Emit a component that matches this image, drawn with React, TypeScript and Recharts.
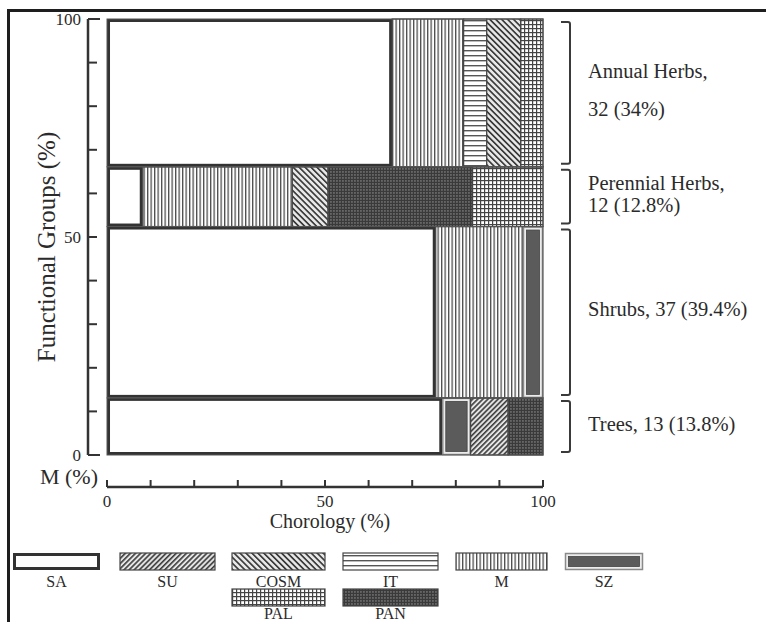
import React from 'react';
import { ComposedChart, XAxis, YAxis, ReferenceArea, ReferenceLine, Scatter, Label } from 'recharts';

// functional groups, bottom to top
const GROUPS = ['Trees', 'Shrubs', 'Perennial Herbs', 'Annual Herbs'];
const GROUP_COUNTS = [13, 37, 12, 32];
const GROUP_PCT = ['13.8%', '39.4%', '12.8%', '34%'];
const GROUP_HEIGHTS = [13.1, 39.3, 13.7, 33.9]; // share of the y axis as drawn

// chorology inside each group (% of the row width)
const TREES_TYPES = ['SA', 'SZ', 'SU', 'PAN'];
const TREES_SHARES = [76.9, 6.5, 8.6, 8.0];
const SHRUBS_TYPES = ['SA', 'M', 'SZ'];
const SHRUBS_SHARES = [75.4, 20.0, 4.6];
const PERENNIAL_TYPES = ['SA', 'M', 'COSM', 'PAN', 'PAL'];
const PERENNIAL_SHARES = [8.2, 34.3, 8.2, 33.1, 16.2];
const ANNUAL_TYPES = ['SA', 'M', 'IT', 'COSM', 'PAL'];
const ANNUAL_SHARES = [65.4, 16.4, 5.3, 7.8, 5.1];

const LEGEND_ROW1 = ['SA', 'SU', 'COSM', 'IT', 'M', 'SZ'];
const LEGEND_ROW2 = ['PAL', 'PAN'];

const TICKS = [0, 10, 20, 30, 40, 50, 60, 70, 80, 90, 100];
const LABELED = [0, 50, 100];

const X_MIN = -4.36;
const Y_MIN = -7.34;
const FONT = '"Liberation Serif", "Times New Roman", serif';
const INK = '#2b2b2b';

const ROW_TYPES = [TREES_TYPES, SHRUBS_TYPES, PERENNIAL_TYPES, ANNUAL_TYPES];
const ROW_SHARES = [TREES_SHARES, SHRUBS_SHARES, PERENNIAL_SHARES, ANNUAL_SHARES];
const TWO_LINE = [false, false, true, true];
const LINE_GAP = [0, 0, 22, 38];

const clamp = (v: number) => Math.min(100, Math.round(v * 1000) / 1000);

let acc = 0;
const rows = GROUPS.map((g, i) => {
  const y0 = clamp(acc);
  acc += GROUP_HEIGHTS[i];
  return { name: g, y0, y1: clamp(acc), idx: i };
});

const cells: { kind: string; x0: number; x1: number; y0: number; y1: number; cx: number; cy: number }[] = [];
rows.forEach((r) => {
  let x = 0;
  ROW_TYPES[r.idx].forEach((kind, j) => {
    const w = ROW_SHARES[r.idx][j];
    const x0 = clamp(x);
    const x1 = clamp(x + w);
    cells.push({ kind, x0, x1, y0: r.y0, y1: r.y1, cx: (x0 + x1) / 2, cy: (r.y0 + r.y1) / 2 });
    x += w;
  });
});

function PatternDefs() {
  return (
    <svg width={0} height={0} style={{ position: 'absolute' }}>
      <defs>
        <pattern id="pat-SU" width={3.6} height={6} patternUnits="userSpaceOnUse" patternTransform="rotate(45)">
          <rect width={3.6} height={6} fill="#e4e4e4" />
          <rect width={1.6} height={6} fill="#3c3c3c" />
        </pattern>
        <pattern id="pat-COSM" width={4.2} height={6} patternUnits="userSpaceOnUse" patternTransform="rotate(-45)">
          <rect width={4.2} height={6} fill="#e8e8e8" />
          <rect width={1.7} height={6} fill="#3c3c3c" />
        </pattern>
        <pattern id="pat-IT" width={6} height={5} patternUnits="userSpaceOnUse">
          <rect width={6} height={5} fill="#fff" />
          <rect width={6} height={1.4} fill="#555" />
        </pattern>
        <pattern id="pat-M" width={3.5} height={6} patternUnits="userSpaceOnUse">
          <rect width={3.5} height={6} fill="#fff" />
          <rect width={1.3} height={6} fill="#4a4a4a" />
        </pattern>
        <pattern id="pat-PAL" width={4} height={4} patternUnits="userSpaceOnUse">
          <rect width={4} height={4} fill="#fff" />
          <rect width={1.2} height={4} fill="#444" />
          <rect width={4} height={1.2} fill="#444" />
        </pattern>
        <pattern id="pat-PAN" width={3} height={3} patternUnits="userSpaceOnUse">
          <rect width={3} height={3} fill="#3a3a3a" />
          <rect x={0.4} y={0.4} width={1.1} height={1.1} fill="#b5b5b5" />
        </pattern>
      </defs>
    </svg>
  );
}

function CellShape(props: any) {
  const { x, y, width, height, kind } = props;
  if (kind === 'SA') {
    return <rect x={x + 1.5} y={y + 1.5} width={width - 3} height={height - 3} fill="#fff" stroke="#333" strokeWidth={3} />;
  }
  if (kind === 'SZ') {
    return (
      <g>
        <rect x={x + 0.5} y={y + 0.5} width={width - 1} height={height - 1} fill="#ececec" stroke="#8a8a8a" strokeWidth={1.5} />
        <rect x={x + 3.5} y={y + 3.5} width={width - 7} height={height - 7} fill="#5b5b5b" stroke="#444" strokeWidth={0.8} />
      </g>
    );
  }
  return <rect x={x} y={y} width={width} height={height} fill={`url(#pat-${kind})`} stroke="#444" strokeWidth={1.2} />;
}

function GroupShape(props: any) {
  const { x, y, width, height, idx } = props;
  const right = x + width;
  const top = y + 3;
  const bottom = y + height - 3;
  const mid = y + height / 2 - 3;
  const name = GROUPS[idx];
  const lines = TWO_LINE[idx]
    ? [`${name},`, `${GROUP_COUNTS[idx]} (${GROUP_PCT[idx]})`]
    : [`${name}, ${GROUP_COUNTS[idx]} (${GROUP_PCT[idx]})`];
  const gap = LINE_GAP[idx];
  return (
    <g>
      <rect x={x} y={y} width={width} height={height} fill="none" stroke="#555" strokeWidth={1} />
      <path
        d={`M${right + 18},${top} L${right + 25},${top} Q${right + 27},${top} ${right + 27},${top + 2} L${right + 27},${bottom - 2} Q${right + 27},${bottom} ${right + 25},${bottom} L${right + 18},${bottom}`}
        fill="none"
        stroke="#3a3a3a"
        strokeWidth={2}
      />
      {lines.map((t, k) => (
        <text
          key={k}
          x={right + 45}
          y={mid + (k - (lines.length - 1) / 2) * gap}
          dy="0.35em"
          fontSize={20.5}
          fontFamily={FONT}
          fill={INK}
        >
          {t}
        </text>
      ))}
    </g>
  );
}

const YTick = (props: any) => {
  const { x, y, payload } = props;
  const v = payload.value;
  const long = v === 0 || v === 100;
  return (
    <g>
      <line x1={x} y1={y} x2={x + (long ? 12 : 9)} y2={y} stroke="#333" strokeWidth={2} />
      {LABELED.includes(v) && (
        <text x={x - 7} y={y} dy="0.35em" textAnchor="end" fontSize={17} fontFamily={FONT} fill={INK}>
          {v}
        </text>
      )}
    </g>
  );
};

const XTick = (props: any) => {
  const { x, y, payload } = props;
  const v = payload.value;
  return (
    <g>
      <line x1={x} y1={y} x2={x} y2={y - 7} stroke="#333" strokeWidth={2} />
      {LABELED.includes(v) && (
        <text x={x} y={y + 20} textAnchor="middle" fontSize={17} fontFamily={FONT} fill={INK}>
          {v}
        </text>
      )}
    </g>
  );
};

const LEGEND_X1 = [13, 120, 232, 343, 456, 565];
const LEGEND_W1 = [87, 95, 93, 95, 91, 78];
const LEGEND_X2 = [232, 343];
const LEGEND_W2 = [93, 95];

function LegendBox({ kind, x, w, y, dy }: { kind: string; x: number; w: number; y: number; dy: number }) {
  return (
    <g>
      <CellShape kind={kind} x={x} y={y} width={w} height={17} />
      <text x={x + w / 2} y={y + dy} textAnchor="middle" fontSize={16} fontFamily={FONT} fill={INK}>
        {kind}
      </text>
    </g>
  );
}

export default function App() {
  return (
    <div style={{ position: 'absolute', left: 0, top: 0, width: 766, height: 622, background: '#fff', overflow: 'hidden' }}>
      <PatternDefs />
      <div
        style={{
          position: 'absolute',
          left: 7,
          top: 9,
          width: 766,
          height: 622,
          borderTop: '3px solid #1e1e1e',
          borderLeft: '3px solid #1e1e1e',
        }}
      />
      <div style={{ position: 'absolute', left: 0, top: 0 }}>
        <ComposedChart width={766} height={540} margin={{ top: 19, right: 223, bottom: 12, left: 8 }}>
          <XAxis
            type="number"
            dataKey="cx"
            domain={[X_MIN, 100]}
            ticks={TICKS}
            axisLine={false}
            tickLine={false}
            tickSize={0}
            tickMargin={0}
            height={41}
            tick={(p: any) => <XTick {...p} />}
          >
            <Label
              content={(p: any) => {
                const vb = p.viewBox;
                const cx = vb.x + (vb.width * (50 - X_MIN)) / (100 - X_MIN);
                return (
                  <g fontFamily={FONT} fill={INK}>
                    <text x={vb.x + 10} y={vb.y - 3.5} textAnchor="end" fontSize={22}>
                      M (%)
                    </text>
                    <text x={cx + 5} y={vb.y + 41} textAnchor="middle" fontSize={20}>
                      Chorology (%)
                    </text>
                  </g>
                );
              }}
            />
          </XAxis>
          <YAxis
            type="number"
            dataKey="cy"
            domain={[Y_MIN, 100]}
            ticks={TICKS}
            axisLine={false}
            tickLine={false}
            tickSize={0}
            tickMargin={0}
            width={80}
            tick={(p: any) => <YTick {...p} />}
          >
            <Label
              content={(p: any) => {
                const vb = p.viewBox;
                const tx = vb.x + 47;
                const ty = vb.y + vb.height / 2 - 6;
                return (
                  <text
                    x={tx}
                    y={ty}
                    transform={`rotate(-90 ${tx} ${ty})`}
                    textAnchor="middle"
                    fontSize={25}
                    fontFamily={FONT}
                    fill={INK}
                  >
                    Functional Groups (%)
                  </text>
                );
              }}
            />
          </YAxis>
          {cells.map((c, i) => (
            <ReferenceArea
              key={`cell-${i}`}
              x1={c.x0}
              x2={c.x1}
              y1={c.y0}
              y2={c.y1}
              ifOverflow="visible"
              shape={(p: any) => <CellShape {...p} kind={c.kind} />}
            />
          ))}
          {rows.map((r) => (
            <ReferenceArea
              key={`row-${r.idx}`}
              x1={0}
              x2={100}
              y1={r.y0}
              y2={r.y1}
              ifOverflow="visible"
              shape={(p: any) => <GroupShape {...p} idx={r.idx} />}
            />
          ))}
          <ReferenceLine
            segment={[{ x: X_MIN, y: 0 }, { x: X_MIN, y: 100 }]}
            stroke="#333"
            strokeWidth={2.5}
          />
          <ReferenceLine
            segment={[{ x: 0, y: Y_MIN }, { x: 100, y: Y_MIN }]}
            stroke="#333"
            strokeWidth={2.5}
          />
          <Scatter data={cells} dataKey="cy" shape={() => <g />} isAnimationActive={false} />
        </ComposedChart>
      </div>
      <svg width={766} height={82} style={{ position: 'absolute', left: 0, top: 540 }}>
        {LEGEND_ROW1.map((k, i) => (
          <LegendBox key={k} kind={k} x={LEGEND_X1[i]} w={LEGEND_W1[i]} y={13} dy={34} />
        ))}
        {LEGEND_ROW2.map((k, i) => (
          <LegendBox key={k} kind={k} x={LEGEND_X2[i]} w={LEGEND_W2[i]} y={49} dy={30} />
        ))}
      </svg>
    </div>
  );
}
